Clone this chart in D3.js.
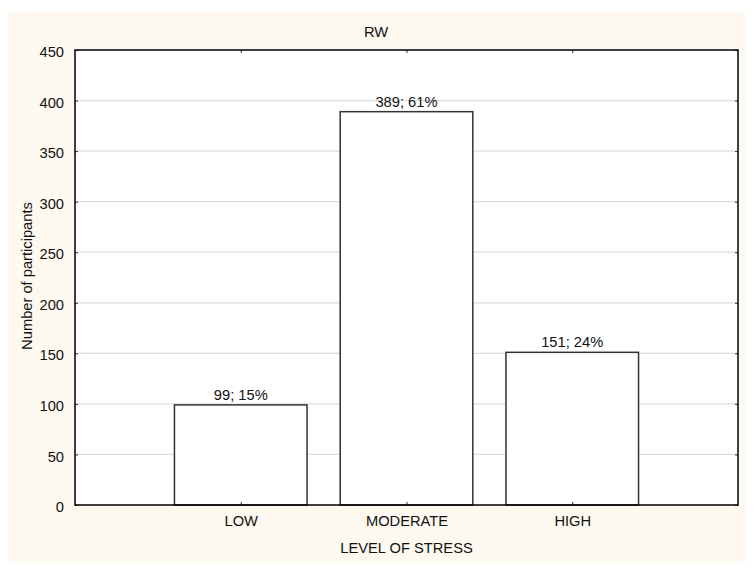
<!DOCTYPE html>
<html><head><meta charset="utf-8">
<script src="https://cdn.jsdelivr.net/npm/d3@7"></script>
<style>body{margin:0;background:#fff}svg{display:block}text{font-family:"Liberation Sans",Arial,sans-serif;fill:#111}</style>
</head><body>
<script>
const categories = ["LOW", "MODERATE", "HIGH"];
const values = [99, 389, 151];
const labels = ["99; 15%", "389; 61%", "151; 24%"];
const yTicks = [0, 50, 100, 150, 200, 250, 300, 350, 400, 450];
const title = "RW";
const xTitle = "LEVEL OF STRESS";
const yTitle = "Number of participants";

const W = 755, H = 578, FS = 14.7;
const svg = d3.select("body").append("svg").attr("width", W).attr("height", H);
svg.append("rect").attr("x", 8).attr("y", 12).attr("width", 737).attr("height", 551).attr("fill", "#fdf9f0");

const L = 75, R = 738, T = 50, B = 505;
const x = d3.scaleLinear().domain([0, 4]).range([L, R]);
const y = d3.scaleLinear().domain([0, 450]).range([B, T]);
const bw = (x(1) - x(0)) * 0.8;

svg.append("rect").attr("x", L).attr("y", T).attr("width", R - L).attr("height", B - T).attr("fill", "#fff");

// gridlines
svg.append("g").selectAll("line").data(yTicks.filter(d => d > 0 && d < 450)).join("line")
  .attr("x1", L).attr("x2", R).attr("y1", d => y(d)).attr("y2", d => y(d))
  .attr("stroke", "#dedede").attr("stroke-width", 1.2);

// bars
svg.append("g").selectAll("rect").data(values).join("rect")
  .attr("x", (d, i) => x(i + 1) - bw / 2).attr("y", d => y(d))
  .attr("width", bw).attr("height", d => B - y(d))
  .attr("fill", "#fff").attr("stroke", "#333").attr("stroke-width", 1.5);

svg.append("g").selectAll("text").data(values).join("text")
  .attr("x", (d, i) => x(i + 1)).attr("y", d => y(d) - 5)
  .attr("text-anchor", "middle").attr("font-size", FS).text((d, i) => labels[i]);

// axes
function styleAxis(g) {
  g.select(".domain").remove();
  g.selectAll("text").attr("font-size", FS).attr("font-family", "Liberation Sans, Arial, sans-serif").attr("fill", "#111");
  g.selectAll("line").attr("stroke", "#333");
}
const gy = svg.append("g").attr("transform", `translate(${L},0)`)
  .call(d3.axisLeft(y).tickValues(yTicks).tickSizeInner(-3).tickSizeOuter(0).tickPadding(11));
styleAxis(gy);
gy.selectAll("text").attr("dy", "0.45em");

const gyr = svg.append("g").attr("transform", `translate(${R},0)`)
  .call(d3.axisRight(y).tickValues(yTicks).tickSizeInner(-3).tickSizeOuter(0).tickFormat(""));
styleAxis(gyr);

const gx = svg.append("g").attr("transform", `translate(0,${B})`)
  .call(d3.axisBottom(x).tickValues([1, 2, 3]).tickFormat(d => categories[d - 1]).tickSizeInner(-3).tickSizeOuter(0).tickPadding(11));
styleAxis(gx);

const gxt = svg.append("g").attr("transform", `translate(0,${T})`)
  .call(d3.axisTop(x).tickValues([1, 2, 3]).tickFormat("").tickSizeInner(-3).tickSizeOuter(0));
styleAxis(gxt);

svg.append("rect").attr("x", L).attr("y", T).attr("width", R - L).attr("height", B - T)
  .attr("fill", "none").attr("stroke", "#000").attr("stroke-width", 1.5);

svg.append("text").attr("x", 376).attr("y", 37).attr("text-anchor", "middle").attr("font-size", FS).text(title);
svg.append("text").attr("x", (L + R) / 2).attr("y", 553).attr("text-anchor", "middle").attr("font-size", FS).text(xTitle);
svg.append("text").attr("transform", `translate(32,276) rotate(-90)`).attr("text-anchor", "middle").attr("font-size", FS).text(yTitle);
</script>
</body></html>
